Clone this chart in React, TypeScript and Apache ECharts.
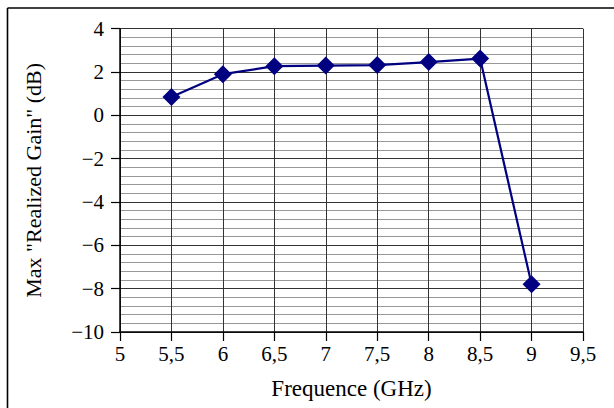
import React, { useEffect, useRef } from "react";
import * as echarts from "echarts";

const freqs = [5.5, 6, 6.5, 7, 7.5, 8, 8.5, 9];
const gains = [0.85, 1.9, 2.27, 2.3, 2.32, 2.46, 2.62, -7.8];
const xTitle = "Frequence (GHz)";
const yTitle = 'Max "Realized Gain" (dB)';

const FONT = "Liberation Serif";

export default function App() {
  const ref = useRef<HTMLDivElement>(null);
  useEffect(() => {
    const chart = echarts.init(ref.current!, null, { renderer: "svg" });
    chart.setOption({
      animation: false,
      backgroundColor: "#ffffff",
      grid: { left: 120, top: 28.7, right: 31, bottom: 76, containLabel: false },
      graphic: [
        { type: "line", shape: { x1: 7.5, y1: 8, x2: 614, y2: 8 }, style: { stroke: "#000", lineWidth: 1.6 } },
        { type: "line", shape: { x1: 7.5, y1: 8, x2: 7.5, y2: 408 }, style: { stroke: "#000", lineWidth: 1.6 } },
      ],
      xAxis: {
        type: "value",
        min: 5,
        max: 9.5,
        interval: 0.5,
        name: xTitle,
        nameLocation: "middle",
        nameGap: 45,
        nameTextStyle: { fontFamily: FONT, fontSize: 23, color: "#000" },
        axisLine: { show: true, onZero: false, lineStyle: { color: "#000", width: 1.5 } },
        axisTick: { show: true, length: 9, lineStyle: { color: "#000", width: 1.2 } },
        axisLabel: {
          fontFamily: FONT,
          fontSize: 21,
          color: "#000",
          margin: 11,
          formatter: (v: number) => String(v).replace(".", ","),
        },
        splitLine: { show: true, lineStyle: { color: "#333", width: 1 } },
      },
      yAxis: {
        type: "value",
        min: -10,
        max: 4,
        interval: 2,
        name: yTitle,
        nameLocation: "middle",
        nameGap: 76,
        nameTextStyle: { fontFamily: FONT, fontSize: 22, color: "#000" },
        axisLine: { show: true, onZero: false, lineStyle: { color: "#000", width: 1.5 } },
        axisTick: { show: true, length: 9, lineStyle: { color: "#000", width: 1.2 } },
        axisLabel: {
          fontFamily: FONT,
          fontSize: 21,
          color: "#000",
          margin: 16,
          formatter: (v: number) => (v < 0 ? "\u2212" + Math.abs(v) : String(v)),
        },
        splitLine: { show: true, lineStyle: { color: "#333", width: 1 } },
        minorTick: { show: false, splitNumber: 5 },
        minorSplitLine: { show: true, lineStyle: { color: "#999", width: 1 } },
      },
      series: [
        {
          type: "line",
          data: freqs.map((f, i) => [f, gains[i]]),
          symbol: "diamond",
          symbolSize: 18,
          itemStyle: { color: "#000080" },
          lineStyle: { color: "#000080", width: 2.2 },
        },
      ],
    });
    return () => chart.dispose();
  }, []);
  return <div ref={ref} style={{ width: 614, height: 408, position: "absolute", left: 0, top: 0 }} />;
}
